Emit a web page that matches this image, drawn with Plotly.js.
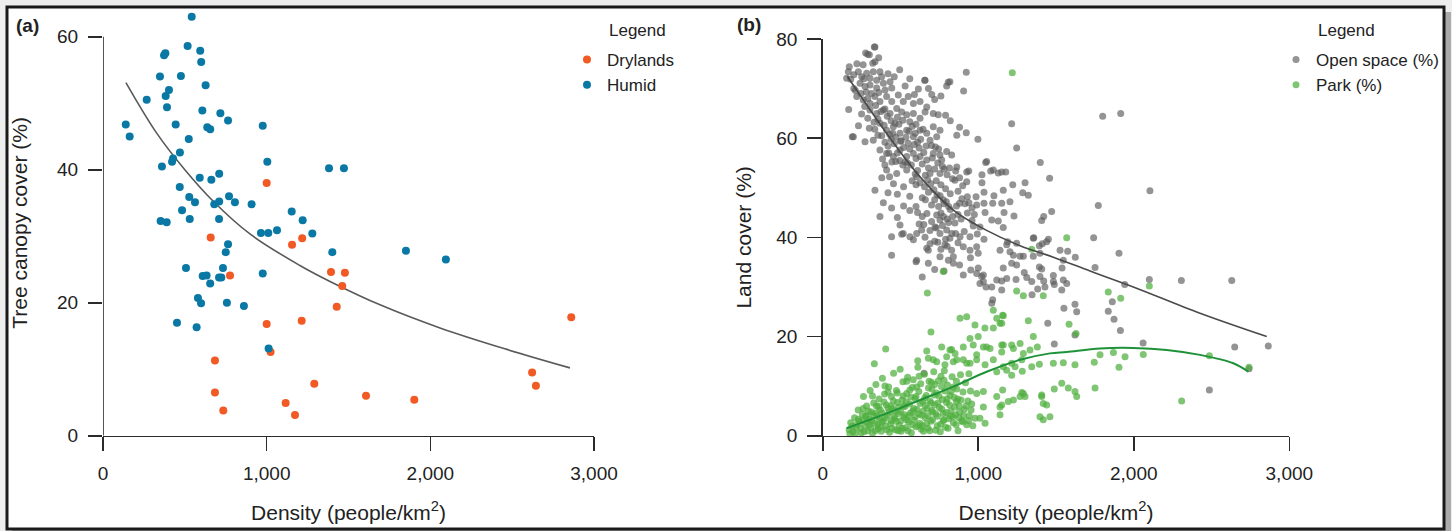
<!DOCTYPE html>
<html>
<head>
<meta charset="utf-8">
<script src="https://cdn.plot.ly/plotly-3.0.1.min.js"></script>
<style>
  html, body { margin: 0; padding: 0; background: #eeeeee; }
  #chart { width: 1452px; height: 531px; }
</style>
</head>
<body>
<div id="chart"></div>
<script>
// ---------- Panel (a): tree canopy cover vs density ----------
const drylands = [
  [1000,38.0],[658,29.8],[1155,28.7],[1217,29.7],[776,24.1],[1393,24.6],[1478,24.5],[1462,22.5],
  [1428,19.4],[1000,16.8],[1214,17.3],[1024,12.6],[684,11.3],[684,6.5],[1291,7.8],[735,3.8],
  [1116,4.9],[1173,3.1],[1607,6.0],[1902,5.4],[2861,17.8],[2622,9.5],[2645,7.5]
];
const humid = [
  [542,63.0],[517,58.6],[594,57.9],[600,56.2],[373,57.2],[381,57.5],[348,54.0],[476,54.1],
  [627,52.7],[403,52.0],[383,51.1],[267,50.5],[391,49.4],[607,48.9],[717,48.5],[764,47.4],
  [139,46.8],[444,46.8],[637,46.4],[655,46.1],[976,46.6],[163,45.0],[524,44.6],[470,42.6],
  [428,41.7],[422,41.2],[360,40.5],[1004,41.2],[591,38.8],[662,38.5],[710,39.4],[1381,40.2],
  [1472,40.2],[469,37.4],[527,35.9],[562,35.1],[680,34.8],[710,35.2],[770,36.0],[806,35.1],
  [908,34.8],[483,33.9],[1153,33.7],[352,32.3],[389,32.1],[530,32.6],[709,32.6],[1220,32.4],
  [965,30.5],[1010,30.5],[1063,30.9],[1279,30.4],[764,28.8],[750,27.6],[1401,27.6],[1851,27.8],
  [2095,26.5],[507,25.2],[733,25.2],[609,24.0],[633,24.1],[709,23.8],[723,23.8],[655,22.9],
  [976,24.4],[580,20.7],[599,19.9],[757,20.0],[861,19.5],[452,17.0],[572,16.3],[1012,13.1]
];
const fitA = [
  [140,53.1],[328,45.5],[500,40.0],[672,35.3],[900,30.3],[1203,25.6],[1387,23.2],
  [1700,19.6],[2059,16.2],[2450,13.1],[2853,10.2]
];

// ---------- Panel (b): land cover vs density ----------
const openSpace = [
  [332,78.4],[276,77.2],[289,76.9],[495,73.8],[923,73.3],[906,69.5],[807,71.3],[797,70.5],
  [656,71.7],[1215,62.9],[1247,58.0],[190,60.3],[167,65.8],[923,61.1],[862,60.6],[998,59.8],
  [1399,55.1],[1459,51.9],[1048,55.1],[1800,64.4],[1916,65.0],[2104,49.4],[1772,46.4],[1742,39.9],
  [1905,36.8],[1751,33.9],[2100,31.5],[2306,31.3],[2630,31.3],[1942,30.5],[1862,27.0],[1836,25.1],
  [1873,23.5],[1914,21.2],[2060,18.7],[2649,17.9],[2865,18.1],[2741,13.5],[2486,9.2],[1551,25.7],
  [1622,26.5],[1633,25.0],[1447,22.7],[1489,18.5],[1622,20.3],[1569,30.7],[1489,30.5],[1483,32.3],
  [1539,33.8],[1547,35.4],[1575,37.2],[1624,36.0],[1393,34.0],[1408,33.6],[1421,31.2],[1382,29.6],
  [1346,28.4],[1296,32.9],[1312,31.9],[1243,31.5],[1161,33.8],[1151,31.2],[1151,29.4],[1357,39.9],
  [1412,38.7],[1440,39.1],[1393,38.3],[1472,45.2],[1421,44.2],[1408,43.4],[1222,50.6],[1301,51.0],
  [1286,49.0],[1322,48.5],[1161,49.5],[1151,46.9],[1204,47.2],[1166,45.0],[1230,44.3],[1183,38.5],
  [1226,36.4],[1269,36.2],[1204,37.1],[1140,37.4],[939,53.4],[1080,53.4],[1129,53.0],[1177,53.2],
  [1024,52.6],[1024,51.0],[986,48.2],[1037,49.1],[926,51.2],[1101,48.4],[1093,46.9],[990,46.5],
  [1037,46.9],[1044,45.0],[968,42.3],[1011,42.1],[1087,43.5],[1129,43.3],[1161,42.0],[947,40.1],
  [994,40.7],[1037,39.6],[1189,39.1],[1247,38.8],[1354,39.8],[1451,39.6],[1290,36.2],[1354,36.2],
  [1397,36.8],[1526,37.4],[1537,29.4],[1119,31.4],[1087,30.0],[1000,33.8],[990,32.7],[1022,32.1],
  [1033,31.1],[1050,30.0],[904,32.4],[952,33.4],[1087,26.7],[1247,34.4],[1215,34.8],[336,49.5],
  [368,44.2],[443,40.1],[443,36.4],[600,35.1],[669,37.8],[443,45.9],[497,42.5],[518,40.8],
  [561,40.1],[583,39.5],[604,40.8],[636,41.5],[658,40.0],[733,44.5],[754,43.5],[776,44.2],
  [722,42.1],[754,40.8],[797,41.5],[818,39.8],[786,38.5],[829,37.4],[840,36.1],[808,35.4],
  [883,40.1],[904,38.1],[947,37.4],[990,38.1],[1000,36.8],[336,78.4],[300,76.8],[336,75.4],
  [322,75.1],[171,74.4],[165,73.4],[154,72.1],[229,73.4],[251,72.4],[283,73.1],[304,72.1],
  [325,73.4],[368,73.4],[379,72.4],[347,71.7],[240,71.1],[272,70.4],[304,70.7],[347,70.1],
  [390,71.1],[401,69.7],[433,71.4],[444,70.1],[658,71.7],[615,69.9],[701,68.8],[818,71.4],
  [219,68.4],[261,67.7],[304,67.0],[336,68.4],[368,67.4],[411,68.4],[444,67.4],[486,68.7],
  [518,67.4],[550,68.4],[583,67.0],[626,67.4],[669,66.3],[711,65.0],[743,64.7],[304,65.7],
  [347,65.0],[390,65.7],[433,65.0],[476,66.0],[508,65.3],[540,64.7],[583,65.0],[626,64.0],
  [658,65.3],[197,60.3],[272,59.3],[325,59.6],[368,63.0],[411,61.6],[454,62.3],[497,61.0],
  [540,61.6],[583,60.3],[626,61.6],[669,61.0],[711,62.3],[754,61.6],[733,60.3],[1054,55.3],
  [1097,53.6],[1151,53.2],[368,57.6],[411,56.9],[454,56.3],[497,57.6],[540,56.3],[583,56.9],
  [626,56.3],[669,55.6],[711,56.9],[754,56.6],[797,57.3],[829,56.6],[862,54.2],[926,53.2],
  [411,53.6],[476,52.9],[540,53.6],[604,52.2],[690,52.9],[754,52.9],[508,40.6],[604,35.4],
  [679,37.4],[754,36.1],[840,34.8],[679,34.8],[1011,30.7],[1033,32.4],[1183,31.7],[1344,31.1],
  [1397,32.1],[1429,30.0],[1483,31.1],[1547,31.4],[1093,27.4],[651,12.6],
  [380,60.5],[400,59.2],[420,58.4],[440,59.8],[460,58.9],[470,60.2],[480,57.0],[500,59.4],
  [520,58.1],[530,55.2],[550,59.0],[560,57.8],[570,54.6],[590,58.7],[600,55.9],[610,53.5],
  [620,58.0],[640,54.8],[650,57.1],[660,52.5],[680,54.0],[700,58.5],[720,53.8],[730,51.4],
  [740,55.0],[760,50.6],[770,54.3],[790,49.8],[800,52.6],[820,48.8],[850,51.5],[870,49.3],
  [880,46.9],[900,50.4],[455,50.8],[480,48.7],[520,50.2],[560,48.3],[600,50.6],[640,48.0],
  [680,49.1],[700,46.5],[720,47.6],[745,46.2],[760,44.9],[780,46.8],[800,43.7],[820,45.6],
  [850,42.9],[870,44.6],[700,43.2],[730,41.9],[770,42.4],[790,39.6],[810,43.0],[400,54.6],
  [430,52.2],[470,55.3],[380,52.0],[420,49.0],[390,47.0],[560,45.4],[600,46.2],[640,44.2],
  [660,47.6],[520,46.3],[480,44.0],[620,42.7],[690,38.7],[720,39.2],[860,46.3],[890,43.7],
  [930,44.9],[960,45.9],[930,48.2],[910,41.2],[870,38.9],[950,35.9],[880,34.4],[640,32.0],
  [720,33.5],[780,33.2],[560,63.3],[600,62.8],[480,64.2],[440,63.5],[400,65.9],[360,69.2],
  [280,69.3],[250,64.9],[230,62.5],[300,62.0],[330,63.2],[270,66.4],[200,70.0],[180,71.9],
  [220,75.0],[260,74.8],[360,76.2],[420,73.0],[460,72.4],[530,70.5],[560,72.0],[590,68.8],
  [680,70.0],[720,67.8],[760,68.5],[820,63.5],[790,64.6],[880,62.2],
  [200,72.8],[210,69.6],[245,69.0],[265,72.0],[290,68.0],[315,69.0],[340,66.6],[355,63.8],
  [375,65.4],[395,62.6],[415,64.4],[430,60.8],[450,61.0],[465,63.0],[490,62.8],[505,59.5],
  [515,63.6],[535,60.2],[555,61.4],[575,62.4],[595,61.0],[610,59.2],[630,59.8],[645,61.8],
  [665,58.4],[690,59.6],[705,56.0],[725,58.2],[745,57.8],[765,55.6],[780,53.8],[815,54.0],
  [835,51.8],[855,53.4],[880,52.0],[895,47.8],[915,46.8],[940,47.0],[960,43.4],[975,44.6],
  [495,55.5],[515,54.6],[545,55.0],[575,51.4],[595,52.8],[625,51.0],[655,50.2],[675,51.6],
  [695,50.8],[715,49.6],[735,48.6],[755,48.4],[775,47.6],[795,47.2],[810,46.2],[835,44.2],
  [855,40.8],[445,55.2],[425,57.0],[385,55.8],[355,60.6],[335,61.8],[290,64.0],[610,45.0],
  [650,42.6],[670,44.8],[690,41.4],[740,39.0],[760,37.6],[800,38.2],[830,40.8]
];
const park = [
  [1219,73.2],[1569,39.9],[1344,37.6],[1247,29.2],[1290,28.2],[1418,28.2],[1836,29.0],[1916,27.7],
  [2100,30.2],[1161,24.2],[1140,22.7],[1322,23.2],[1584,22.5],[1629,20.6],[1354,20.0],[1380,17.9],
  [1215,18.3],[1151,18.3],[1393,14.4],[1547,14.7],[1622,14.3],[1746,14.8],[1783,16.3],[1869,16.8],
  [1944,15.9],[1905,13.8],[2061,16.4],[2486,16.1],[2741,13.8],[2308,7.0],[1283,13.0],[1215,12.2],
  [1237,13.9],[1489,9.4],[1537,10.6],[1579,9.6],[1622,8.9],[1633,7.9],[1751,9.6],[1408,8.2],
  [1418,6.5],[1440,6.2],[1290,8.5],[1301,7.9],[1226,7.2],[1193,6.9],[1157,9.2],[1151,6.2],
  [1418,3.2],[1461,3.8],[1140,4.2],[673,28.8],[883,23.7],[926,24.0],[979,22.3],[1043,21.7],
  [1097,21.7],[1151,22.7],[1097,25.3],[1157,24.3],[696,20.9],[405,17.5],[332,14.5],[669,17.1],
  [765,17.9],[829,17.4],[851,16.6],[904,17.9],[947,19.6],[1000,20.0],[1054,17.9],[990,16.3],
  [611,15.1],[679,15.6],[733,14.9],[786,14.3],[862,15.3],[926,14.6],[990,15.3],[1044,14.3],
  [1097,15.3],[1151,16.9],[1183,13.2],[1119,12.9],[1269,7.9],[1033,5.8],[1011,3.5],[979,3.5],
  [1044,2.5],[1290,16.6],[1408,7.9],[1397,3.8],[775,33.1],[1119,23.7],[818,17.3],[968,18.3],
  [1033,17.9],[1076,17.6],[1161,18.3],[1226,17.6],[1269,18.6],[1333,17.3],[711,15.3],[797,15.9],
  [840,14.9],[904,15.3],[947,14.6],[1161,13.9],[1215,14.6],[1280,15.3],[1344,13.9],[1483,14.6],
  [990,8.5],[1033,8.9],[1119,7.9],[1140,5.8],[1280,8.7],
  [170,1.2],[180,2.6],[195,0.8],[205,3.6],[215,1.7],[228,5.2],[236,2.9],[248,0.6],[255,4.3],
  [262,7.9],[270,2.0],[282,6.0],[290,1.0],[298,3.3],[305,9.1],[312,4.8],[320,0.5],[328,6.6],
  [334,2.5],[342,10.3],[350,3.9],[356,1.4],[362,7.4],[370,5.2],[376,0.9],[384,11.6],[390,3.0],
  [398,8.4],[404,1.9],[410,6.2],[416,4.1],[424,9.8],[430,0.7],[436,2.4],[442,7.9],[450,5.5],
  [456,12.6],[462,3.4],[468,1.2],[474,9.1],[480,6.7],[486,4.5],[492,2.1],[498,13.4],[504,0.9],
  [510,7.2],[516,10.9],[522,3.7],[528,5.9],[534,1.6],[540,8.5],[546,11.8],[552,2.8],[558,6.4],
  [564,4.6],[570,0.6],[576,9.7],[582,11.3],[588,3.1],[594,7.5],[600,1.8],[606,5.3],[612,13.8],
  [618,8.9],[624,2.5],[630,10.5],[636,4.1],[642,6.9],[648,0.9],[654,12.4],[660,3.6],[666,8.1],
  [672,5.5],[678,1.5],[684,11.0],[690,7.0],[696,2.9],[702,9.4],[708,4.8],[714,12.9],[720,6.2],
  [726,1.1],[732,8.6],[738,3.9],[744,11.1],[750,5.7],[758,2.3],[764,9.9],[770,7.3],[776,4.5],
  [782,13.1],[790,1.7],[796,6.7],[802,10.2],[810,3.4],[818,8.1],[824,5.0],[832,11.9],[840,2.6],
  [846,7.7],[854,4.2],[862,9.4],[870,1.0],[878,6.0],[886,12.3],[894,3.0],[902,8.8],[910,5.3],
  [918,10.7],[926,2.2],[934,7.0],[942,4.0],[950,9.0],[958,6.4],[230,3.3],[260,5.5],[300,2.2],
  [340,4.6],[380,2.8],[420,5.6],[460,3.9],[500,4.9],[540,3.2],[580,5.0],[620,4.4],[660,6.1],
  [700,5.1],[740,6.6],[780,3.2],[820,4.0],[860,6.9],[900,2.8],[280,4.0],[320,8.0],[360,5.9],
  [400,10.0],[440,3.0],[480,8.6],[520,6.0],[560,9.2],[600,7.9],[640,2.0],[680,9.6],[720,10.3],
  [760,12.0],[800,7.4],[840,9.8],[880,4.8],
  [175,0.4],[190,1.9],[210,0.5],[222,2.3],[242,1.5],[252,3.0],[266,0.8],[276,3.8],[286,2.7],
  [294,5.0],[308,1.6],[316,3.0],[324,4.2],[338,1.0],[346,6.0],[354,2.2],[366,3.4],[372,1.8],
  [382,4.6],[394,6.8],[402,3.6],[412,1.2],[420,8.8],[428,4.8],[438,6.0],[446,1.5],[454,7.0],
  [466,5.0],[472,2.9],[484,1.0],[490,5.8],[502,3.0],[512,1.5],[518,8.0],[526,4.2],[538,6.8],
  [548,1.0],[556,4.0],[566,7.8],[574,2.2],[586,5.5],[596,3.8],[604,9.8],[616,2.0],[626,6.5],
  [634,1.3],[646,5.0],[656,7.6],[668,2.4],[676,4.0],[688,1.0],[698,6.6],[706,3.2],[718,8.2],
  [728,4.4],[736,2.0],[748,8.0],[756,0.8],[766,5.4],[774,3.0],[786,9.0],[794,4.7],[806,1.5],
  [816,6.2],[826,8.9],[836,3.8],[848,5.8],[858,2.2],[868,7.4],[876,3.6],[890,7.2],[906,4.0],
  [922,6.0],[938,3.0],[954,5.2],[965,2.0],[540,11.0],[620,12.0],[700,10.8],[780,11.2],
  [860,11.0],[940,12.5]
];
const fitOpen = [
  [158,72.5],[411,61.0],[626,52.2],[840,45.5],[1054,41.4],[1269,38.3],[1483,36.0],
  [1719,33.2],[1997,30.0],[2426,24.7],[2855,20.0]
];
const fitPark = [
  [154,1.5],[411,4.5],[626,7.2],[840,9.9],[1054,12.9],[1269,15.3],[1461,16.6],[1569,16.9],
  [1783,17.6],[1997,17.7],[2212,17.3],[2426,16.3],[2640,14.6],[2737,12.9]
];

const xTicks = [0, 1000, 2000, 3000];
const xTickText = ['0', '1,000', '2,000', '3,000'];
const yTicksA = [0, 20, 40, 60];
const yTicksB = [0, 20, 40, 60, 80];

// ---------- build ----------
const W = 1452, H = 531;
const px = v => v / W;
const py = v => 1 - v / H;
const xs = a => a.map(p => p[0]);
const ys = a => a.map(p => p[1]);
const FONT = 'Liberation Sans, Arial, sans-serif';
const INK = '#222222';
const AXC = '#2b2b2b';

const traces = [
  { type: 'scatter', mode: 'lines', x: xs(fitA), y: ys(fitA), xaxis: 'x', yaxis: 'y',
    line: { color: '#5a5a5a', width: 1.6, shape: 'spline', smoothing: 1 }, showlegend: false, hoverinfo: 'skip' },
  { type: 'scatter', mode: 'markers', name: 'Drylands', x: xs(drylands), y: ys(drylands),
    xaxis: 'x', yaxis: 'y', cliponaxis: false, legend: 'legend',
    marker: { color: '#f15a24', size: 8 } },
  { type: 'scatter', mode: 'markers', name: 'Humid', x: xs(humid), y: ys(humid),
    xaxis: 'x', yaxis: 'y', cliponaxis: false, legend: 'legend',
    marker: { color: '#0a78a4', size: 8 } },

  { type: 'scatter', mode: 'markers', name: 'Open space (%)', x: xs(openSpace), y: ys(openSpace),
    xaxis: 'x2', yaxis: 'y2', cliponaxis: false, legend: 'legend2',
    marker: { color: '#5c5c5c', size: 7, opacity: 0.66 } },
  { type: 'scatter', mode: 'markers', name: 'Park (%)', x: xs(park), y: ys(park),
    xaxis: 'x2', yaxis: 'y2', cliponaxis: false, legend: 'legend2',
    marker: { color: '#4fae3e', size: 7, opacity: 0.72 } },
  { type: 'scatter', mode: 'lines', x: xs(fitOpen), y: ys(fitOpen), xaxis: 'x2', yaxis: 'y2',
    line: { color: '#4a4a4a', width: 1.6, shape: 'spline' }, showlegend: false, hoverinfo: 'skip' },
  { type: 'scatter', mode: 'lines', x: xs(fitPark), y: ys(fitPark), xaxis: 'x2', yaxis: 'y2',
    line: { color: '#1e9238', width: 2, shape: 'spline' }, showlegend: false, hoverinfo: 'skip' }
];

const axisCommon = {
  showline: true, linecolor: AXC, linewidth: 1.6,
  ticks: 'outside', ticklen: 14, tickwidth: 1.6, tickcolor: AXC,
  showgrid: false, zeroline: false, fixedrange: true,
  tickfont: { family: FONT, size: 19, color: INK }, ticklabelstandoff: 6
};
const titleFont = { family: FONT, size: 21, color: INK };

// panel (a) y scale: 0 -> 435.7 px, 60 -> 36.7 px; range extended to 64 so the top point shows
const aPxPerUnit = (435.7 - 36.7) / 60;
const aTop = 435.7 - 64 * aPxPerUnit;

const layout = {
  width: W, height: H,
  margin: { l: 0, r: 0, t: 0, b: 0 },
  paper_bgcolor: '#eeeeee', plot_bgcolor: 'rgba(0,0,0,0)',
  font: { family: FONT, color: INK },
  xaxis: Object.assign({}, axisCommon, {
    domain: [px(103), px(594)], anchor: 'y', range: [0, 3000],
    tickvals: xTicks, ticktext: xTickText,
    title: { text: 'Density (people/km<sup>2</sup>)', font: titleFont, standoff: 22 }
  }),
  yaxis: Object.assign({}, axisCommon, {
    domain: [py(435.7), py(aTop)], anchor: 'x', range: [0, 64],
    showline: false,
    tickvals: yTicksA,
    title: { text: 'Tree canopy cover (%)', font: titleFont, standoff: 23 }
  }),
  xaxis2: Object.assign({}, axisCommon, {
    domain: [px(822.7), px(1289.3)], anchor: 'y2', range: [0, 3000],
    tickvals: xTicks, ticktext: xTickText,
    title: { text: 'Density (people/km<sup>2</sup>)', font: titleFont, standoff: 22 }
  }),
  yaxis2: Object.assign({}, axisCommon, {
    domain: [py(435.7), py(39)], anchor: 'x2', range: [0, 80],
    tickvals: yTicksB,
    title: { text: 'Land cover (%)', font: titleFont, standoff: 19 }
  }),
  legend: {
    x: px(567), xanchor: 'left', y: py(42), yanchor: 'top',
    bgcolor: 'rgba(0,0,0,0)', borderwidth: 0,
    font: { family: FONT, size: 17, color: INK }, itemwidth: 30
  },
  legend2: {
    x: px(1276), xanchor: 'left', y: py(42), yanchor: 'top',
    bgcolor: 'rgba(0,0,0,0)', borderwidth: 0,
    font: { family: FONT, size: 17, color: INK }, itemwidth: 30
  },
  shapes: [
    { type: 'rect', xref: 'paper', yref: 'paper', layer: 'below',
      x0: px(12), x1: px(1451), y0: -0.02, y1: py(12),
      fillcolor: 'rgba(0,0,0,0.28)', line: { width: 0 } },
    { type: 'rect', xref: 'paper', yref: 'paper', layer: 'below',
      x0: px(7), x1: px(1444), y0: py(529), y1: py(7),
      fillcolor: '#ffffff', line: { color: '#1a1a1a', width: 3 } },
    // panel (a) y axis line, from 0 to 60 only
    { type: 'line', xref: 'x', yref: 'y', layer: 'above',
      x0: 0, x1: 0, y0: 0, y1: 60, line: { color: AXC, width: 1.6 } }
  ],
  annotations: [
    { xref: 'paper', yref: 'paper', x: px(27), y: py(25), xanchor: 'center', yanchor: 'middle',
      text: '<b>(a)</b>', showarrow: false, font: { family: FONT, size: 19, color: INK } },
    { xref: 'paper', yref: 'paper', x: px(749), y: py(24), xanchor: 'center', yanchor: 'middle',
      text: '<b>(b)</b>', showarrow: false, font: { family: FONT, size: 19, color: INK } },
    { xref: 'paper', yref: 'paper', x: px(607), y: py(30), xanchor: 'left', yanchor: 'middle',
      text: 'Legend', showarrow: false, font: { family: FONT, size: 17, color: INK } },
    { xref: 'paper', yref: 'paper', x: px(1316), y: py(30), xanchor: 'left', yanchor: 'middle',
      text: 'Legend', showarrow: false, font: { family: FONT, size: 17, color: INK } }
  ]
};

Plotly.newPlot('chart', traces, layout, { displayModeBar: false, staticPlot: true });
</script>
</body>
</html>
